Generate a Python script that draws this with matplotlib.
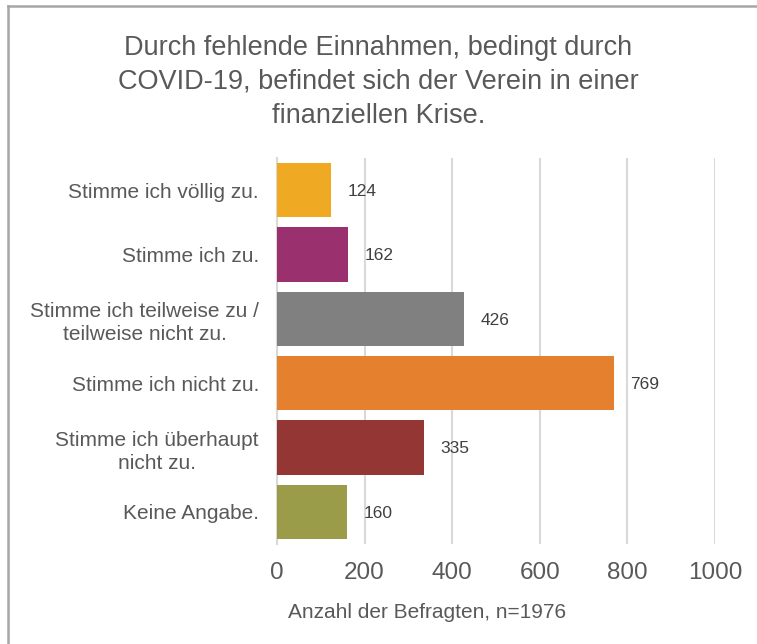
import matplotlib.pyplot as plt
from matplotlib.lines import Line2D

plt.rcParams['font.family'] = ['Liberation Sans', 'DejaVu Sans']

# Daten
kategorien = ['Stimme ich völlig zu.', 'Stimme ich zu.',
              'Stimme ich teilweise zu /\nteilweise nicht zu.',
              'Stimme ich nicht zu.', 'Stimme ich überhaupt\nnicht zu.',
              'Keine Angabe.']
anzahl = [124, 162, 426, 769, 335, 160]
farben = ['#F0A922', '#9B306E', '#808080', '#E5802F', '#943634', '#9A9C4A']
x_ticks = [0, 200, 400, 600, 800, 1000]

text_farbe = '#595959'
titel = ('Durch fehlende Einnahmen, bedingt durch\n'
         'COVID-19, befindet sich der Verein in einer\n'
         'finanziellen Krise.')

fig = plt.figure(figsize=(7.57, 6.44), dpi=100)
ax = fig.add_axes([277 / 757, 1 - 544 / 644, 438 / 757, 386 / 644])

y_pos = list(range(len(kategorien)))
bars = ax.barh(y_pos, anzahl, height=0.84, color=farben, zorder=3)
ax.set_ylim(len(kategorien) - 0.5, -0.5)
ax.set_xlim(0, 1000)

# Werte an den Balken
for b, wert in zip(bars, anzahl):
    ax.annotate(str(wert), (b.get_width(), b.get_y() + b.get_height() / 2),
                xytext=(12, -1), textcoords='offset points',
                ha='left', va='center', fontsize=12.5, color='#404040')

ax.set_yticks(y_pos)
ax.set_yticklabels(kategorien, fontsize=15, color=text_farbe,
                   multialignment='center', linespacing=1.3)
ax.set_xticks(x_ticks)
ax.set_xticklabels([str(t) for t in x_ticks], fontsize=17.5, color=text_farbe)
ax.tick_params(axis='y', length=0, pad=13)
ax.tick_params(axis='x', length=0, pad=13)

ax.grid(axis='x', color='#d9d9d9', linewidth=1.5, zorder=0)
for s in ['top', 'right', 'bottom']:
    ax.spines[s].set_visible(False)
ax.spines['left'].set_color('#d9d9d9')
ax.spines['left'].set_linewidth(1.5)

fig.text(0.5, 1 - 35 / 644, titel, ha='center', va='top', fontsize=19.5,
         color=text_farbe, linespacing=1.4)
fig.text(427 / 757, 1 - 613 / 644, 'Anzahl der Befragten, n=1976', ha='center',
         va='center', fontsize=15, color=text_farbe)

# Rahmen (oben und links sichtbar)
fig.add_artist(Line2D([8 / 757, 8 / 757], [0, 1 - 6 / 644], transform=fig.transFigure,
                      color='#a6a6a6', linewidth=1.8))
fig.add_artist(Line2D([8 / 757, 1], [1 - 6 / 644, 1 - 6 / 644], transform=fig.transFigure,
                      color='#a6a6a6', linewidth=1.8))

fig.savefig('out.png', dpi=100)
